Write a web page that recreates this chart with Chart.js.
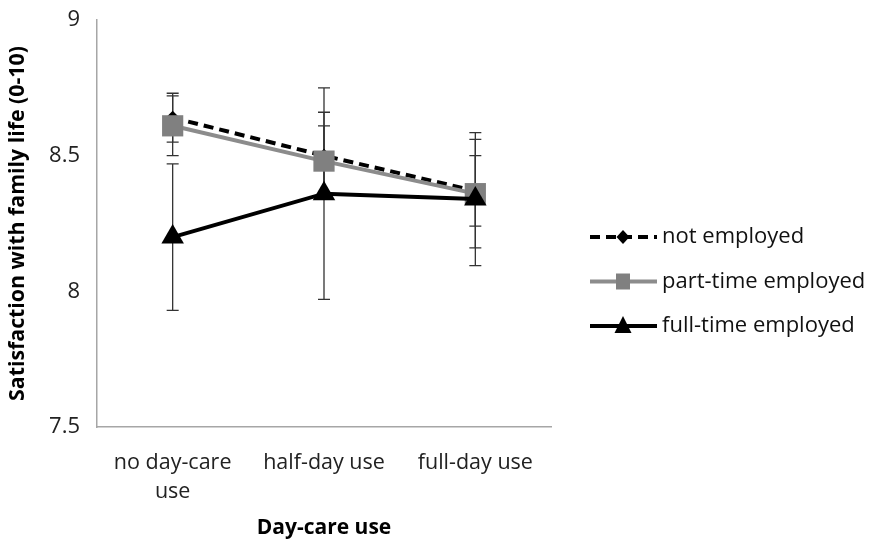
<!DOCTYPE html>
<html>
<head>
<meta charset="utf-8">
<script src="https://cdn.jsdelivr.net/npm/chart.js@4.4.0/dist/chart.umd.min.js"></script>
<style>
  html, body { margin: 0; padding: 0; background: #fff; }
  #wrap { width: 869px; height: 546px; }
</style>
</head>
<body>
<div id="wrap"><canvas id="grafica"></canvas></div>
<script>
// datos
var categorias = [["no day-care", "use"], "half-day use", "full-day use"];
var noEmpleado = [8.64, 8.50, 8.37];
var noEmpleadoErr = [0.09, 0.16, 0.13];
var parcial = [8.61, 8.48, 8.36];
var parcialErr = [0.11, 0.13, 0.20];
var completo = [8.20, 8.36, 8.34];
var completoErr = [0.27, 0.39, 0.245];
var ticksY = [7.5, 8, 8.5, 9];

var fuente = "'Open Sans', sans-serif";

// barras de error dibujadas con la escala y
var barrasError = {
  id: 'barrasError',
  beforeDatasetsDraw: function (chart) {
    var ctx = chart.ctx;
    var y = chart.scales.y;
    ctx.save();
    ctx.strokeStyle = '#333';
    ctx.lineWidth = 1.3;
    chart.data.datasets.forEach(function (ds, i) {
      var meta = chart.getDatasetMeta(i);
      meta.data.forEach(function (p, j) {
        var v = ds.data[j], e = ds.errores[j];
        var yt = y.getPixelForValue(v + e), yb = y.getPixelForValue(v - e);
        ctx.beginPath();
        ctx.moveTo(p.x, yt); ctx.lineTo(p.x, yb);
        ctx.moveTo(p.x - 6, yt); ctx.lineTo(p.x + 6, yt);
        ctx.moveTo(p.x - 6, yb); ctx.lineTo(p.x + 6, yb);
        ctx.stroke();
      });
    });
    ctx.restore();
  }
};

function marca(ctx, tipo, x, y, color) {
  ctx.fillStyle = color;
  ctx.beginPath();
  if (tipo === 'rectRot') {
    ctx.moveTo(x, y - 7); ctx.lineTo(x + 6.5, y); ctx.lineTo(x, y + 7); ctx.lineTo(x - 6.5, y);
  } else if (tipo === 'rect') {
    ctx.rect(x - 7, y - 8, 14, 16);
  } else {
    ctx.moveTo(x, y - 10); ctx.lineTo(x + 8.5, y + 7); ctx.lineTo(x - 8.5, y + 7);
  }
  ctx.closePath();
  ctx.fill();
}

// leyenda a la derecha
var leyenda = {
  id: 'leyenda',
  afterDraw: function (chart) {
    var ctx = chart.ctx;
    ctx.save();
    chart.data.datasets.forEach(function (ds, i) {
      var yy = 237 + i * 44.5;
      ctx.strokeStyle = ds.borderColor;
      ctx.lineWidth = 4;
      ctx.setLineDash(ds.borderDash || []);
      ctx.beginPath();
      ctx.moveTo(590, yy); ctx.lineTo(657, yy);
      ctx.stroke();
      ctx.setLineDash([]);
      marca(ctx, ds.pointStyle, 623, yy, ds.pointBackgroundColor);
      ctx.fillStyle = '#111';
      ctx.font = '22px ' + fuente;
      ctx.textBaseline = 'middle';
      ctx.fillText(ds.label, 662, yy);
    });
    ctx.restore();
  }
};

new Chart(document.getElementById("grafica"), {
  type: 'line',
  data: {
    labels: categorias,
    datasets: [{
        label: "not employed",
        data: noEmpleado,
        errores: noEmpleadoErr,
        order: 2,
        borderColor: "#000",
        borderWidth: 4,
        borderDash: [10, 6],
        pointStyle: 'rectRot',
        pointRadius: 7,
        pointBackgroundColor: "#000",
        pointBorderWidth: 0,
        fill: false
      }, {
        label: "part-time employed",
        data: parcial,
        errores: parcialErr,
        order: 1,
        borderColor: "#8c8c8c",
        borderWidth: 4,
        pointStyle: 'rect',
        pointRadius: 15,
        pointBackgroundColor: "#808080",
        pointBorderWidth: 0,
        fill: false
      }, {
        label: "full-time employed",
        data: completo,
        errores: completoErr,
        order: 0,
        borderColor: "#000",
        borderWidth: 4,
        pointStyle: 'triangle',
        pointRadius: 13,
        pointBackgroundColor: "#000",
        pointBorderWidth: 0,
        fill: false
      }]
  },
  options: {
    responsive: true,
    maintainAspectRatio: false,
    animation: false,
    layout: { padding: { top: 20, right: 318, left: 0, bottom: 0 } },
    plugins: {
      legend: { display: false },
      title: { display: false },
      tooltip: { enabled: false }
    },
    scales: {
      x: {
        offset: true,
        grid: { display: false },
        border: { color: '#a6a6a6', width: 1.5 },
        ticks: { color: '#222', font: { family: fuente, size: 21.5, lineHeight: 1.35 }, padding: 13, maxRotation: 0 },
        title: { display: true, text: 'Day-care use', color: '#000', font: { family: fuente, size: 21, weight: 'bold' }, padding: { top: 4, bottom: 5 } },
        afterFit: function (s) { s.height = 119; s.paddingLeft = 0; s.paddingRight = 0; }
      },
      y: {
        min: 7.5,
        max: 9,
        grid: { display: false },
        border: { color: '#a6a6a6', width: 1.5 },
        afterBuildTicks: function (s) { s.ticks = ticksY.map(function (v) { return { value: v }; }); },
        ticks: { color: '#222', font: { family: fuente, size: 22 }, padding: 9, callback: function (v) { return String(v); } },
        title: { display: true, text: 'Satisfaction with family life (0-10)', color: '#000', font: { family: fuente, size: 21.3, weight: 'bold' }, padding: { top: 5, bottom: 0 } },
        afterFit: function (s) { s.width = 97; s.paddingTop = 0; s.paddingBottom = 0; }
      }
    }
  },
  plugins: [barrasError, leyenda]
});
</script>
</body>
</html>
